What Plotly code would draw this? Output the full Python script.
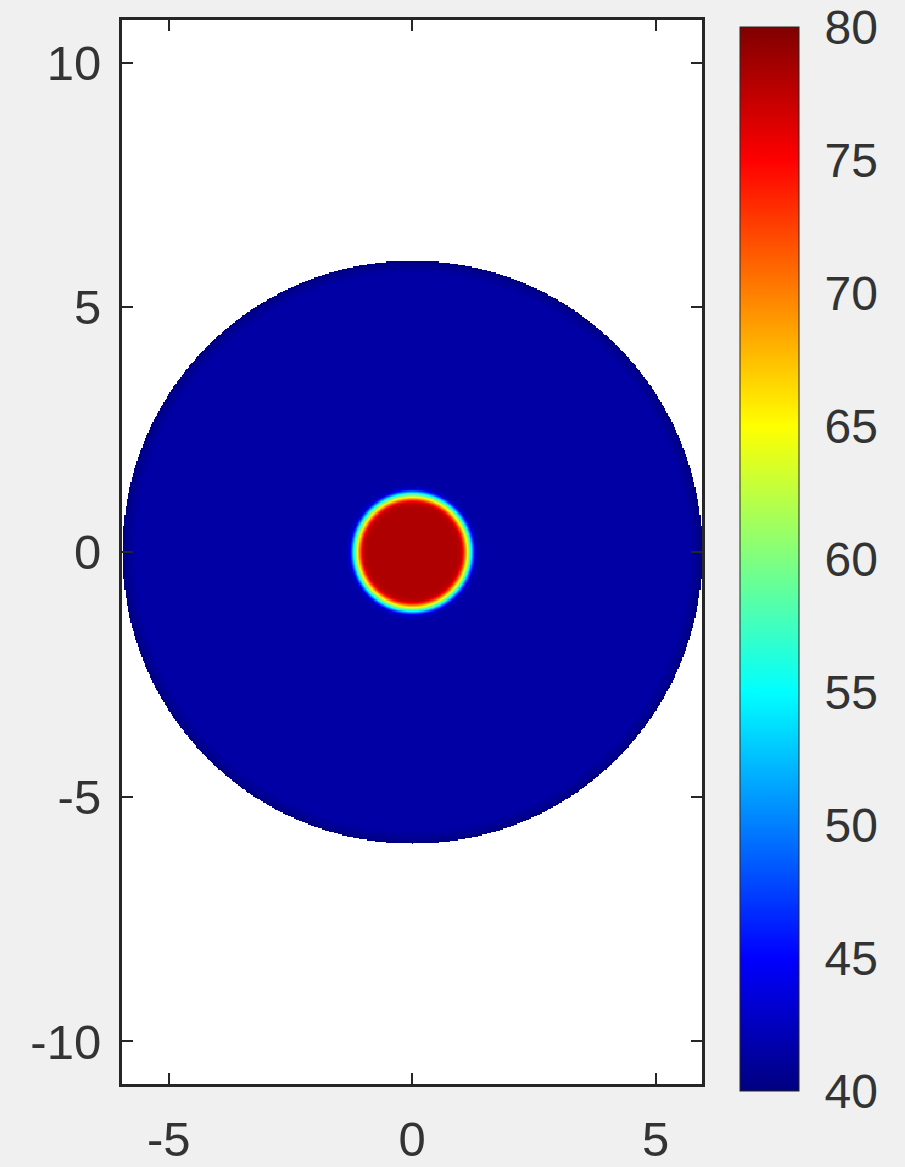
import numpy as np
import plotly.graph_objects as go

# Radial profile of the reconstructed field (radius, value)
profile_r = [0.0, 0.90, 1.00, 1.05, 1.10, 1.15, 1.20, 1.25, 1.30, 1.40, 5.70, 5.85, 5.95]
profile_v = [78.2, 78.2, 77.5, 74.0, 68.0, 62.0, 56.0, 48.0, 42.5, 41.4, 41.4, 40.6, 40.0]
disk_radius = 5.95

# Axis / colour-bar settings
x_ticks = [-5, 0, 5]
y_ticks = [-10, -5, 0, 5, 10]
cbar_ticks = [40, 45, 50, 55, 60, 65, 70, 75, 80]
zmin, zmax = 40, 80

# MATLAB-style jet colour map
jet = [
    [0.000, "rgb(0,0,128)"],
    [0.125, "rgb(0,0,255)"],
    [0.375, "rgb(0,255,255)"],
    [0.625, "rgb(255,255,0)"],
    [0.875, "rgb(255,0,0)"],
    [1.000, "rgb(128,0,0)"],
]

step = 0.025
xs = np.arange(-6.0, 6.0 + step / 2, step)
ys = np.arange(-6.0, 6.0 + step / 2, step)
X, Y = np.meshgrid(xs, ys)
R = np.hypot(X, Y)
Z = np.interp(R, profile_r, profile_v)
Z = np.where(R <= disk_radius, Z, np.nan)
z_list = [[None if np.isnan(v) else round(float(v), 2) for v in row] for row in Z]

axis_color = "#262626"
font = dict(family="Liberation Sans, Arial, sans-serif", size=49, color="#333333")
cbar_font = dict(family="Liberation Sans, Arial, sans-serif", size=48, color="#333333")

fig = go.Figure(
    go.Heatmap(
        x=xs,
        y=ys,
        z=z_list,
        zmin=zmin,
        zmax=zmax,
        colorscale=jet,
        hoverongaps=False,
        colorbar=dict(
            x=1.0655,
            xanchor="left",
            xpad=0,
            y=1.0 - 7 / 1064,
            yanchor="top",
            ypad=0,
            len=1.0,
            lenmode="fraction",
            thickness=59,
            thicknessmode="pixels",
            outlinewidth=1,
            outlinecolor=axis_color,
            tickvals=cbar_ticks,
            ticktext=[str(t) for t in cbar_ticks],
            ticks="outside",
            ticklen=16,
            tickcolor="#f0f0f0",
            tickfont=cbar_font,
            ticklabeloverflow="allow",
        ),
    )
)

fig.update_layout(
    width=905,
    height=1167,
    margin=dict(l=122, r=203, t=20, b=83, pad=0, autoexpand=False),
    paper_bgcolor="#f0f0f0",
    plot_bgcolor="white",
    showlegend=False,
)

fig.update_xaxes(
    range=[-5.96, 5.95],
    tickvals=x_ticks,
    ticktext=[str(t) for t in x_ticks],
    ticks="inside",
    ticklen=11,
    tickwidth=1.5,
    tickcolor=axis_color,
    showline=True,
    linecolor=axis_color,
    linewidth=3,
    mirror="ticks",
    showgrid=False,
    zeroline=False,
    tickfont=font,
    ticklabelstandoff=10,
)
fig.update_yaxes(
    range=[-10.87, 10.87],
    tickvals=y_ticks,
    ticktext=[str(t) for t in y_ticks],
    ticks="inside",
    ticklen=11,
    tickwidth=1.5,
    tickcolor=axis_color,
    showline=True,
    linecolor=axis_color,
    linewidth=3,
    mirror="ticks",
    showgrid=False,
    zeroline=False,
    tickfont=font,
    ticklabelstandoff=8,
)

fig.write_html("out.html")
